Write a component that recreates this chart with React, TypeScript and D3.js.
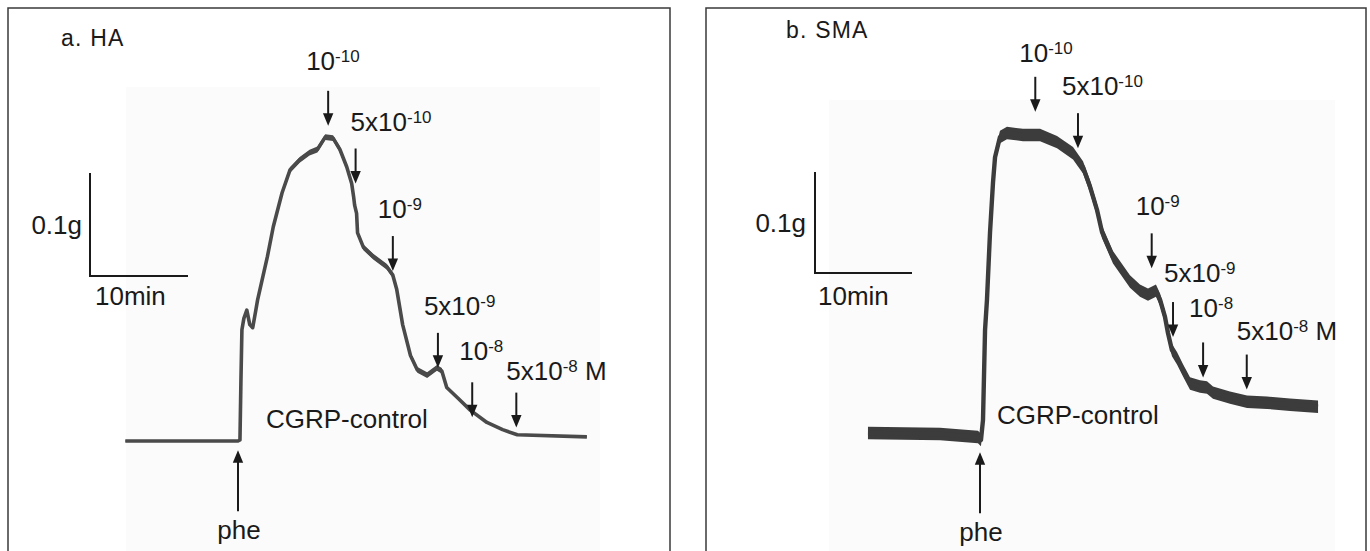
import React from "react";
import * as d3 from "d3";

// ---------- data (time in minutes from phenylephrine, tension in g above baseline) ----------
const timeHA = [-11.5, 0, 0.2, 0.3, 0.4, 0.6, 0.9, 1.2, 1.5, 1.8, 2.0, 3.0, 3.6, 4.5, 5.3, 6.3, 7.3, 8.1, 8.9, 9.7, 10.4, 11.1, 11.6, 11.8, 11.9, 12.1, 12.2, 12.8, 13.8, 15.2, 15.8, 16.2, 16.8, 17.6, 18.3, 19.3, 20.3, 20.8, 21.3, 22.4, 23.7, 25.4, 27.0, 28.5, 35.6];
const tensionHA = [0, 0, 0.001, 0.059, 0.108, 0.119, 0.127, 0.113, 0.110, 0.126, 0.137, 0.179, 0.208, 0.241, 0.263, 0.273, 0.280, 0.283, 0.295, 0.294, 0.283, 0.266, 0.250, 0.237, 0.229, 0.221, 0.202, 0.188, 0.179, 0.169, 0.161, 0.147, 0.113, 0.083, 0.069, 0.064, 0.071, 0.068, 0.052, 0.042, 0.030, 0.018, 0.011, 0.006, 0.004];

const timeSMA = [-11.55, -4.12, -0.21, 0.10, 0.31, 0.52, 0.72, 1.03, 1.34, 1.55, 2.06, 2.78, 4.43, 6.19, 7.94, 9.59, 10.62, 11.34, 12.06, 12.58, 13.71, 15.46, 16.49, 17.32, 18.14, 18.56, 19.07, 19.38, 19.79, 20.31, 20.93, 21.65, 22.68, 23.40, 24.02, 25.77, 27.53, 29.59, 31.96, 34.85];
const tensionSMA = [0.001, 0, -0.003, -0.006, 0.014, 0.103, 0.133, 0.199, 0.249, 0.274, 0.294, 0.298, 0.296, 0.296, 0.289, 0.278, 0.264, 0.245, 0.222, 0.200, 0.175, 0.151, 0.142, 0.138, 0.142, 0.133, 0.116, 0.100, 0.083, 0.075, 0.063, 0.050, 0.047, 0.046, 0.041, 0.036, 0.032, 0.031, 0.029, 0.027];

// CGRP doses (M)
const doseBase = ["10", "5x10", "10", "5x10", "10", "5x10"];
const doseExp = ["-10", "-10", "-9", "-9", "-8", "-8"];
const doseSuffix = ["", "", "", "", "", "\u00A0M"];
const doseTimeHA = [9.2, 12.0, 15.8, 20.4, 23.9, 28.4];
const doseTipHA = [0.306, 0.25, 0.165, 0.071, 0.023, 0.013];
const doseTimeSMA = [5.7, 10.1, 17.7, 19.9, 23.0, 27.5];
const doseTipSMA = [0.319, 0.283, 0.164, 0.096, 0.056, 0.044];

const panelTitles = ["a. HA", "b. SMA"];
const scaleBarTime = 10; // min
const scaleBarTension = 0.1; // g

// ---------- layout ----------
const W = 1370;
const H = 551;
const FONT = "'Liberation Sans', Arial, Helvetica, sans-serif";
const INK = "#1a1a1a";
const FS = 26;
const FS_SUP = 17;

type Layout = {
  frame: [number, number];
  inner: [number, number, number];
  originX: number;
  pxPer10Min: number;
  baseY: number;
  pxPer01g: number;
  title: [number, number];
  bar: [number, number];
  gLabel: [number, number];
  minLabel: [number, number];
  cgrp: [number, number];
  pheTip: number;
  pheLabelY: number;
  labelOff: [number, number][];
  band: (t: number) => number;
  stroke: number;
  color: string;
};

const layouts: Layout[] = [
  {
    frame: [8, 670],
    inner: [126, 600, 87],
    originX: 238,
    pxPer10Min: 98,
    baseY: 441,
    pxPer01g: 103,
    title: [61, 46],
    bar: [90, 276],
    gLabel: [82, 234],
    minLabel: [95, 305],
    cgrp: [266, 428],
    pheTip: -0.009,
    pheLabelY: 539,
    labelOff: [[-22, 21], [-5, 18], [-15, 18], [-14, 18], [-13, 22], [-10, 13]],
    band: (t) => (t > 1.5 && t < 21 ? 2.9 : 0.6),
    stroke: 3.6,
    color: "#4a4a4a",
  },
  {
    frame: [706, 1366],
    inner: [829, 1335, 100],
    originX: 980,
    pxPer10Min: 97,
    baseY: 434,
    pxPer01g: 101,
    title: [786, 38],
    bar: [815, 273],
    gLabel: [806, 232],
    minLabel: [818, 305],
    cgrp: [997, 424],
    pheTip: -0.018,
    pheLabelY: 541,
    labelOff: [[-16, 15], [-16, 18], [-16, 18], [-9, 20], [-14, 25], [-10, 15]],
    band: () => 6.2,
    stroke: 4.4,
    color: "#3c3c3c",
  },
];

const ARROW_LEN = 35;

function DownArrow({ x, tip }: { x: number; tip: number }) {
  return (
    <g>
      <line x1={x} x2={x} y1={tip - ARROW_LEN} y2={tip - 9} stroke={INK} strokeWidth={2} />
      <path d={`M${x - 5.2},${tip - 12.5}L${x + 5.2},${tip - 12.5}L${x},${tip}Z`} fill={INK} />
    </g>
  );
}

function UpArrow({ x, tip, len }: { x: number; tip: number; len: number }) {
  return (
    <g>
      <line x1={x} x2={x} y1={tip + 9} y2={tip + len} stroke={INK} strokeWidth={2} />
      <path d={`M${x - 5.2},${tip + 12.5}L${x + 5.2},${tip + 12.5}L${x},${tip}Z`} fill={INK} />
    </g>
  );
}

function Panel({ idx, times, tensions, doseTimes, doseTips }: { idx: number; times: number[]; tensions: number[]; doseTimes: number[]; doseTips: number[] }) {
  const L = layouts[idx];
  const x = d3.scaleLinear().domain([0, scaleBarTime]).range([L.originX, L.originX + L.pxPer10Min]);
  const y = d3.scaleLinear().domain([0, scaleBarTension]).range([L.baseY, L.baseY - L.pxPer01g]);
  const pts = times.map((t, i) => ({ t, g: tensions[i] }));
  const area = d3
    .area<{ t: number; g: number }>()
    .x((d) => x(d.t))
    .y0((d) => y(d.g) - L.band(d.t))
    .y1((d) => y(d.g) + L.band(d.t));
  const line = d3
    .line<{ t: number; g: number }>()
    .x((d) => x(d.t))
    .y((d) => y(d.g));

  const barW = x(scaleBarTime) - x(0);
  const barH = y(0) - y(scaleBarTension);
  const [bx, by] = L.bar;

  return (
    <g>
      <rect x={L.inner[0]} y={L.inner[2]} width={L.inner[1] - L.inner[0]} height={H - L.inner[2]} fill="#fbfbfb" />
      <path
        d={`M${L.frame[0]},${H}V${8}H${L.frame[1]}V${H}`}
        fill="none"
        stroke="#3a3a3a"
        strokeWidth={1.5}
      />
      <text x={L.title[0]} y={L.title[1]} fontSize={23} letterSpacing={1.2} fill={INK}>
        {panelTitles[idx]}
      </text>

      {/* scale bar */}
      <path d={`M${bx},${by - barH}V${by}H${bx + barW}`} fill="none" stroke={INK} strokeWidth={2} />
      <text x={L.gLabel[0]} y={L.gLabel[1]} fontSize={FS} textAnchor="end" fill={INK}>
        0.1g
      </text>
      <text x={L.minLabel[0]} y={L.minLabel[1]} fontSize={FS} fill={INK}>
        10min
      </text>

      {/* trace */}
      <path d={area(pts) || ""} fill={L.color} />
      <path d={line(pts) || ""} fill="none" stroke={L.color} strokeWidth={L.stroke} strokeLinejoin="round" />

      {/* dose arrows */}
      {doseTimes.map((t, i) => {
        const ax = x(t);
        const tip = y(doseTips[i]);
        const [dx, dy] = L.labelOff[i];
        return (
          <g key={i}>
            <DownArrow x={ax} tip={tip} />
            <text x={ax + dx} y={tip - ARROW_LEN - dy} fontSize={FS} fill={INK}>
              {doseBase[i]}
              <tspan fontSize={FS_SUP} dy={-8}>
                {doseExp[i]}
              </tspan>
              {doseSuffix[i] ? (
                <tspan fontSize={FS} dy={8}>
                  {doseSuffix[i]}
                </tspan>
              ) : null}
            </text>
          </g>
        );
      })}

      {/* phenylephrine */}
      <UpArrow x={x(0)} tip={y(L.pheTip)} len={61} />
      <text x={x(0) + 1} y={L.pheLabelY} fontSize={FS} textAnchor="middle" fill={INK}>
        phe
      </text>
      <text x={L.cgrp[0]} y={L.cgrp[1]} fontSize={FS} fill={INK}>
        CGRP-control
      </text>
    </g>
  );
}

export default function App() {
  return (
    <svg
      width={W}
      height={H}
      viewBox={`0 0 ${W} ${H}`}
      style={{ position: "absolute", left: 0, top: 0, background: "#fff" }}
      fontFamily={FONT}
    >
      <rect x={0} y={0} width={W} height={H} fill="#fff" />
      <Panel idx={0} times={timeHA} tensions={tensionHA} doseTimes={doseTimeHA} doseTips={doseTipHA} />
      <Panel idx={1} times={timeSMA} tensions={tensionSMA} doseTimes={doseTimeSMA} doseTips={doseTipSMA} />
    </svg>
  );
}
